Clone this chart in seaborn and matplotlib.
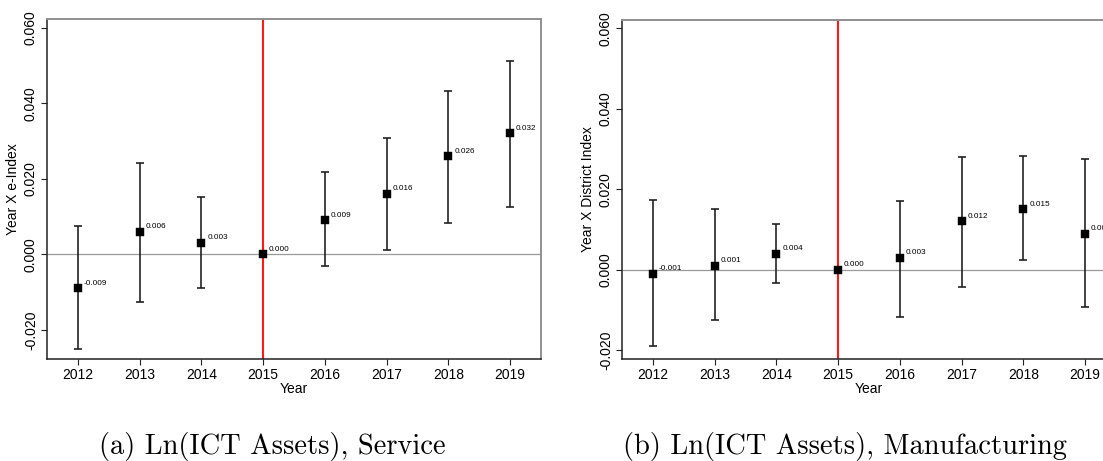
import matplotlib
matplotlib.use("Agg")
import matplotlib.pyplot as plt
import numpy as np
import pandas as pd
import seaborn as sns
from matplotlib.ticker import FixedLocator, FuncFormatter

# Event-study coefficients with 95% confidence bounds (base year 2015)
years = [2012, 2013, 2014, 2015, 2016, 2017, 2018, 2019]

service_coef = [-0.009, 0.006, 0.003, 0.000, 0.009, 0.016, 0.026, 0.032]
service_lo = [-0.0251, -0.0126, -0.0089, np.nan, -0.0030, 0.0012, 0.0082, 0.0125]
service_hi = [0.0075, 0.0242, 0.0152, np.nan, 0.0218, 0.0308, 0.0433, 0.0512]

manuf_coef = [-0.001, 0.001, 0.004, 0.000, 0.003, 0.012, 0.015, 0.009]
manuf_lo = [-0.0189, -0.0126, -0.0033, np.nan, -0.0118, -0.0043, 0.0025, -0.0093]
manuf_hi = [0.0173, 0.0150, 0.0114, np.nan, 0.0172, 0.0281, 0.0283, 0.0276]

ytick_values = [-0.02, 0.0, 0.02, 0.04, 0.06]
base_year = 2015

panels = [
    dict(coef=service_coef, lo=service_lo, hi=service_hi,
         ylabel="Year X e-Index", ylim=(-0.0277, 0.0623),
         caption="(a) Ln(ICT Assets), Service",
         rect=[47 / 1103, 102 / 461, 494 / 1103, 340 / 461], cap_x=272),
    dict(coef=manuf_coef, lo=manuf_lo, hi=manuf_hi,
         ylabel="Year X District Index", ylim=(-0.0222, 0.0621),
         caption="(b) Ln(ICT Assets), Manufacturing",
         rect=[622 / 1103, 102 / 461, 494 / 1103, 339 / 461], cap_x=845),
]

sns.set_theme(style="white")
plt.rcParams["font.family"] = ["Liberation Sans", "DejaVu Sans"]

fig = plt.figure(figsize=(11.03, 4.61), dpi=100)
fig.patch.set_facecolor("white")

for p in panels:
    df = pd.DataFrame({"year": years, "coef": p["coef"], "lo": p["lo"], "hi": p["hi"]})
    ax = fig.add_axes(p["rect"])
    ax.set_facecolor("white")

    # reference lines: zero effect and treatment year
    ax.axhline(0, color="#9a9a9a", lw=0.9, zorder=1)
    ax.axvline(base_year, color="#ff1a1a", lw=1.5, zorder=2)

    ci = df.dropna()
    ax.errorbar(ci["year"], ci["coef"],
                yerr=[ci["coef"] - ci["lo"], ci["hi"] - ci["coef"]],
                fmt="none", ecolor="#1a1a1a", elinewidth=1.15,
                capsize=2.6, capthick=1.15, zorder=3)

    sns.scatterplot(data=df, x="year", y="coef", marker="s", s=36,
                    color="black", edgecolor="black", linewidth=0.3,
                    ax=ax, zorder=4, legend=False)

    for yr, c in zip(df["year"], df["coef"]):
        ax.annotate(f"{c:.3f}", (yr, c), xytext=(4.2, 2.6),
                    textcoords="offset points", ha="left", va="baseline",
                    fontsize=5.9, color="black", zorder=5,
                    annotation_clip=False)

    ax.set_xlim(2011.5, 2019.5)
    ax.set_ylim(*p["ylim"])
    ax.xaxis.set_major_locator(FixedLocator(years))
    ax.yaxis.set_major_locator(FixedLocator(ytick_values))
    ax.yaxis.set_major_formatter(FuncFormatter(lambda v, _: f"{v:.3f}".replace("\u2212", "-")))
    ax.tick_params(axis="both", which="major", direction="out", length=4.5,
                   width=0.8, color="#222222", labelsize=10, labelcolor="black",
                   bottom=True, left=True, pad=2)
    for lbl in ax.get_yticklabels():
        lbl.set_rotation(90)
        lbl.set_va("center")

    ax.set_xlabel("Year", fontsize=10, labelpad=0, color="black")
    ax.set_ylabel(p["ylabel"], fontsize=10, labelpad=3, color="black")

    for side in ("left", "bottom"):
        ax.spines[side].set_color("#222222")
        ax.spines[side].set_linewidth(1.1)
    for side in ("top", "right"):
        ax.spines[side].set_color("#8f8f8f")
        ax.spines[side].set_linewidth(1.4)
    ax.grid(False)

    fig.text(p["cap_x"] / 1103, 1 - 454 / 461, p["caption"],
             family="cmr10", fontsize=20.5, ha="center", va="baseline",
             color="black")

fig.savefig("out.png", dpi=100, facecolor="white")
